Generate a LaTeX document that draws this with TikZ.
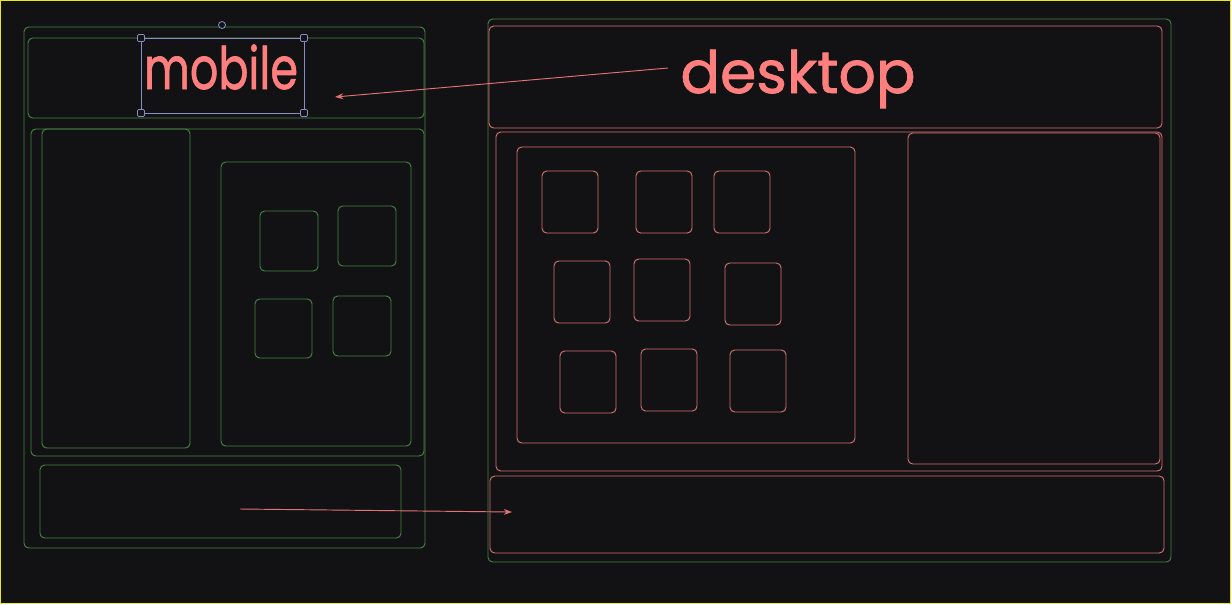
\documentclass[tikz,border=0pt]{standalone}
\usepackage{fontspec}
\usepackage{tikz}
\usetikzlibrary{arrows.meta,positioning,calc}
\usepackage{xcolor}
\newfontfamily\handfont[FakeBold=1.2]{Poppins}
\definecolor{bgdark}{HTML}{121214}
\definecolor{wiregreen}{HTML}{468546}
\definecolor{wirered}{HTML}{D87272}
\definecolor{inkred}{HTML}{FF7F7F}
\definecolor{selblue}{HTML}{8A8CC4}
\definecolor{edgeyellow}{HTML}{E8E81A}

\begin{document}
\begin{tikzpicture}[x=0.03cm,y=-0.03cm,
    mbox/.style={draw=wiregreen, line width=0.8pt, rounded corners=4pt},
    dbox/.style={draw=wirered, line width=0.8pt, rounded corners=4pt},
    label/.style={text=inkred, inner sep=0pt, anchor=base, font=\handfont\fontsize{50}{50}\selectfont},
    wirearrow/.style={draw=inkred!90!black, line width=0.8pt, -{Stealth[length=7pt,width=5pt]}},
    handle/.style={draw=selblue, line width=0.7pt, fill=bgdark, minimum size=6pt, inner sep=0pt, rounded corners=1pt}]
  \useasboundingbox (0,0) rectangle (1231,604);
  \fill[bgdark] (0,0) rectangle (1231,604);
  \draw[edgeyellow, line width=1.2pt] (0.5,0.5) rectangle (1230.5,603.5);

  % mobile layout
  \draw[mbox] (24,27) rectangle (425,548);
  \draw[mbox] (28,38) rectangle (424,118);
  \draw[mbox] (31,129) rectangle (424,456);
  \draw[mbox] (42,129) rectangle (190,448);
  \draw[mbox] (221,162) rectangle (411,446);
  \draw[mbox] (260,211) rectangle (318,271);
  \draw[mbox] (338,206) rectangle (396,266);
  \draw[mbox] (255,299) rectangle (312,358);
  \draw[mbox] (333,296) rectangle (391,356);
  \draw[mbox] (40,465) rectangle (401,538);

  % desktop layout
  \draw[mbox] (488,19) rectangle (1171,562);
  \draw[dbox] (489,26) rectangle (1162,128);
  \draw[dbox] (496,132) rectangle (1162,471);
  \draw[dbox] (517,147) rectangle (855,443);
  \draw[dbox] (908,133) rectangle (1160,464);
  \draw[dbox] (490,476) rectangle (1164,553);
  \foreach \x/\y in {542/171, 636/171, 714/171,
                     554/261, 634/259, 725/263,
                     560/351, 641/349, 730/350}
    \draw[dbox] (\x,\y) rectangle ++(56,62);

  % selection around the mobile label
  \draw[selblue, line width=0.7pt] (141,38) rectangle (304,113);
  \foreach \x/\y [count=\i] in {141/38, 304/38, 141/113, 304/113}
    \node[handle] (h\i) at (\x,\y) {};
  \node[draw=selblue, line width=0.7pt, fill=bgdark, circle, minimum size=6pt, inner sep=0pt] (rot) at (222,25) {};

  % labels
  \node[label] (mobile) at (221,89) {\scalebox{0.76}[1]{mobile}};
  \node[label] (desktop) at (798,93) {desktop};

  \coordinate (fromdesk) at (668,68);
  \coordinate (tomob) at (335,97);
  \coordinate (fromfoot) at (240,509);
  \coordinate (tofoot) at (512,512);
  \draw[wirearrow] (fromdesk) -- (tomob);
  \draw[wirearrow] (fromfoot) -- (tofoot);
\end{tikzpicture}
\end{document}
